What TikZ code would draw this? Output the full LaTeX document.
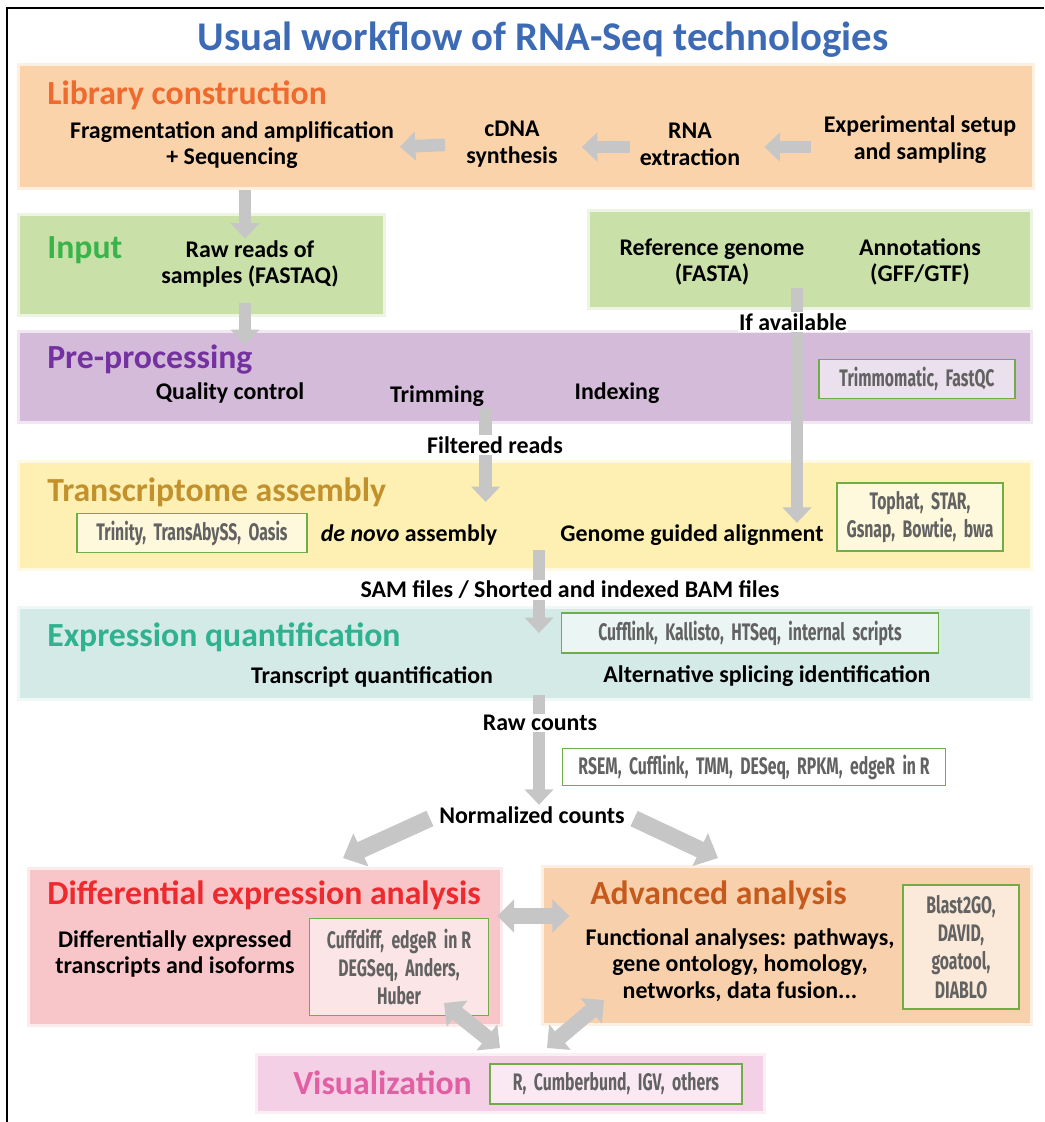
\documentclass[tikz,border=0pt]{standalone}
\usepackage{fontspec}
\setmainfont{Carlito}
\newfontfamily\toolfont[FakeStretch=0.66]{Fira Sans}
\usetikzlibrary{arrows.meta,positioning,fit}

\definecolor{titleblue}{HTML}{3D6AB4}
\definecolor{libfill}{HTML}{FAD3AA}
\definecolor{libtitle}{HTML}{EE6A2E}
\definecolor{inputfill}{HTML}{C9E1A9}
\definecolor{inputtitle}{HTML}{3AB44A}
\definecolor{prefill}{HTML}{D3BBD9}
\definecolor{pretitle}{HTML}{7431A0}
\definecolor{transfill}{HTML}{FDF0B2}
\definecolor{transtitle}{HTML}{C3912C}
\definecolor{exprfill}{HTML}{D3EAE6}
\definecolor{exprtitle}{HTML}{2EB290}
\definecolor{defill}{HTML}{F8C6C8}
\definecolor{detitle}{HTML}{EE2A2E}
\definecolor{advfill}{HTML}{F8D0AC}
\definecolor{advtitle}{HTML}{C55A1C}
\definecolor{visfill}{HTML}{F4D0E6}
\definecolor{vistitle}{HTML}{E35FA4}
\definecolor{toolgreen}{HTML}{70AD47}
\definecolor{toolgray}{HTML}{626262}
\definecolor{arrowgray}{HTML}{C6C6C6}

\tikzset{
    band/.style={
           fill=#1,
           draw=#1, line width=4pt, draw opacity=0.35,
           inner sep=0pt,
           },
    sect/.style={
           anchor=west,
           font=\bfseries\fontsize{24}{28}\selectfont,
           text=#1,
           inner sep=0pt,
           },
    txt/.style={
           font=\bfseries\fontsize{17}{19}\selectfont,
           align=center,
           inner sep=1pt,
           },
    toolbox/.style={
           draw=toolgreen, line width=1.1pt,
           fill=white, fill opacity=0.55, text opacity=1,
           text=toolgray,
           font=\toolfont\bfseries\fontsize{17}{20}\selectfont,
           align=center,
           inner sep=2pt,
           },
    flow/.style={
           draw=arrowgray, line width=9pt,
           -{Triangle[width=20pt,length=11pt]},
           },
    wideflow/.style={
           draw=arrowgray, line width=12pt,
           -{Triangle[width=25pt,length=14pt]},
           },
    twoflow/.style={
           draw=arrowgray, line width=11pt,
           {Triangle[width=23pt,length=12pt]}-{Triangle[width=23pt,length=12pt]},
           },
    whitelabel/.style={
           txt, fill=white, inner sep=1pt,
           },
}

\begin{document}
\begin{tikzpicture}[x=0.025cm, y=-0.025cm]
        \useasboundingbox (0,0) rectangle (1044,1122);

        % frame
        \draw[line width=0.8pt] (7,1122) -- (7,8) -- (1044,8);

        % title
        \node[font=\bfseries\fontsize{29}{34}\selectfont, text=titleblue] (title) at (543,40)
            {Usual workflow of RNA-Seq technologies};

        % BANDS
        \node[band=libfill,   fit={(20,66) (1032,187)}]   (libband) {};
        \node[band=inputfill, fit={(20,216) (383,314)}]   (inputband) {};
        \node[band=inputfill, fit={(590,212) (1030,307)}] (refband) {};
        \node[band=prefill,   fit={(20,333) (1030,421)}]  (preband) {};
        \node[band=transfill, fit={(20,463) (1030,568)}]  (transband) {};
        \node[band=exprfill,  fit={(20,609) (1030,698)}]  (exprband) {};
        \node[band=defill,    fit={(30,870) (500,1024)}]  (deband) {};
        \node[band=advfill,   fit={(544,868) (1030,1023)}] (advband) {};
        \node[band=visfill,   fit={(258,1056) (763,1111)}] (visband) {};

        % LIBRARY CONSTRUCTION
        \node[sect=libtitle] (libtitle) at (47,95) {Library construction};
        \node[txt] (frag)     at (232,145) {Fragmentation and amplification\\+ Sequencing};
        \node[txt] (cdna)     at (512,144) {cDNA\\synthesis};
        \node[txt] (rnaext)   at (690,144) {RNA\\extraction};
        \node[txt] (expsetup) at (920,140) {Experimental setup\\and sampling};

        % INPUT
        \node[sect=inputtitle] (inputtitle) at (47,250) {Input};
        \node[txt] (rawreads) at (250,264) {Raw reads of\\samples (FASTAQ)};
        \node[txt] (refgen)   at (712,262) {Reference genome\\(FASTA)};
        \node[txt] (annot)    at (920,262) {Annotations\\(GFF/GTF)};

        % PRE-PROCESSING
        \node[sect=pretitle] (pretitle) at (47,360) {Pre-processing};
        \node[txt] (qc)   at (230,393) {Quality control};
        \node[txt] (trim) at (437,396) {Trimming};
        \node[txt] (idx)  at (617,393) {Indexing};
        \node[toolbox, minimum width=4.9cm, minimum height=0.975cm] (trimtool) at (917,379)
            {Trimmomatic,\ \ FastQC};

        % TRANSCRIPTOME ASSEMBLY
        \node[sect=transtitle] (transtitle) at (47,492) {Transcriptome assembly};
        \node[toolbox, minimum width=5.75cm, minimum height=0.975cm] (trinity) at (192,533)
            {Trinity,\ \ TransAbySS,\ \ Oasis};
        \node[txt] (denovo)   at (409,535) {\textit{de novo} assembly};
        \node[txt] (genguide) at (692,535) {Genome guided alignment};
        \node[toolbox, minimum width=4.15cm, minimum height=1.7cm] (tophat) at (920,517)
            {Tophat,\ \ STAR,\\Gsnap,\ \ Bowtie,\ \ bwa};

        % EXPRESSION QUANTIFICATION
        \node[sect=exprtitle] (exprtitle) at (47,637) {Expression quantification};
        \node[toolbox, minimum width=9.425cm, minimum height=1cm] (cufftool) at (750,633)
            {Cufflink,\ \ Kallisto,\ \ HTSeq,\ \ internal\ \ scripts};
        \node[txt] (tq)  at (372,677) {Transcript quantification};
        \node[txt] (asi) at (767,676) {Alternative splicing identification};

        \node[toolbox, minimum width=9.575cm, minimum height=0.925cm] (rsemtool) at (754,767)
            {RSEM,\ \ Cufflink,\ \ TMM,\ \ DESeq,\ \ RPKM,\ \ edgeR\ \ in\ R};
        \node[txt] (normcounts) at (532,815) {Normalized counts};

        % DIFFERENTIAL EXPRESSION
        \node[sect=detitle] (detitle) at (47,895) {Differential expression analysis};
        \node[txt] (detext) at (175,954) {Differentially expressed\\transcripts and isoforms};
        \node[toolbox, minimum width=4.475cm, minimum height=2.425cm] (detool) at (399,967)
            {Cuffdiff,\ \ edgeR\ \ in\ R\\DEGSeq,\ \ Anders,\\Huber};

        % ADVANCED ANALYSIS
        \node[sect=advtitle] (advtitle) at (590,895) {Advanced analysis};
        \node[txt] (advtext) at (740,965) {Functional analyses: pathways,\\gene ontology, homology,\\networks, data fusion...};
        \node[toolbox, minimum width=2.9cm, minimum height=3.1cm] (advtool) at (961,947)
            {Blast2GO,\\DAVID,\\goatool,\\DIABLO};

        % VISUALIZATION
        \node[sect=vistitle] (vistitle) at (293,1083) {Visualization};
        \node[toolbox, minimum width=6.3cm, minimum height=1cm] (vistool) at (616,1084)
            {R,\ \ Cumberbund,\ \ IGV,\ \ others};

        % free ends of connectors
        \coordinate (refout)   at (797,288);
        \coordinate (asmout)   at (539,550);
        \coordinate (quantout) at (539,695);
        \coordinate (deIn)     at (343,858);
        \coordinate (advIn)    at (718,858);
        \coordinate (deVis)    at (444,1003);
        \coordinate (visDe)    at (500,1048);
        \coordinate (advVis)   at (604,1000);
        \coordinate (visAdv)   at (547,1048);

        % the paths
        \draw[flow, shorten <=14pt, shorten >=3pt]  (cdna.west) -- (frag.east |- 0,147);
        \draw[flow, shorten <=6pt,  shorten >=16pt] (rnaext.west |- 0,147) -- (cdna.east |- 0,147);
        \draw[flow, shorten <=8pt,  shorten >=16pt] (expsetup.west |- 0,147) -- (rnaext.east |- 0,147);
        \draw[flow] (libband.south -| 245,0) -- (rawreads.north -| 245,0);
        \draw[flow, shorten <=10pt] (rawreads.south -| 245,0) -- (pretitle.north -| 245,0);
        \draw[flow] (refout) -- (refout |- genguide.north);
        \draw[flow] (trim.south east) -- (trim.south east |- 0,502);
        \draw[flow] (asmout) -- (asmout |- cufftool.center);
        \draw[flow] (quantout) -- (quantout |- normcounts.north);
        \draw[wideflow, shorten <=6pt] (normcounts.west) -- (deIn);
        \draw[wideflow, shorten <=6pt] (normcounts.east) -- (advIn);
        \draw[twoflow] (deband.east |- 0,916) -- (advband.west |- 0,916)
            [shorten <=-4pt, shorten >=-20pt];
        \draw[twoflow] (deVis) -- (visDe);
        \draw[twoflow] (advVis) -- (visAdv);

        % labels over the paths
        \node[whitelabel] (ifavail)   at (793,322) {If available};
        \node[whitelabel] (filtered)  at (495,445) {Filtered reads};
        \node[whitelabel] (sam)       at (570,590) {SAM files / Shorted and indexed BAM files};
        \node[whitelabel] (rawcounts) at (540,723) {Raw counts};

\end{tikzpicture}
\end{document}
